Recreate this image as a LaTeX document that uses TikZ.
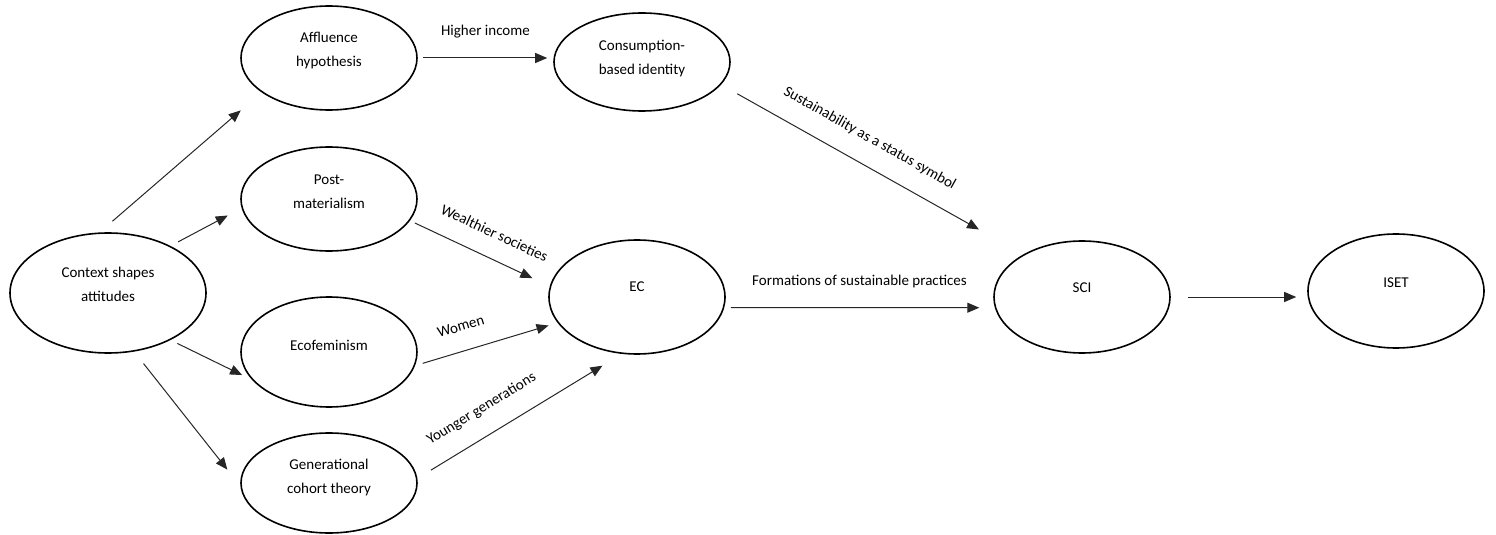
\documentclass[tikz,border=0pt]{standalone}
\usepackage{fontspec}
\setmainfont{Carlito}
\usetikzlibrary{shapes.geometric,arrows.meta}

\tikzset{
  oval/.style={ellipse,draw,line width=0.8pt,minimum width=88pt,minimum height=52pt,inner sep=0pt},
  intext/.style={align=center,font=\fontsize{7.5}{12}\selectfont,inner sep=0pt,yshift=3.5pt},
  arr/.style={-{Triangle[length=6pt,width=5pt]},line width=0.5pt,black!85},
  lbl/.style={font=\fontsize{7.5}{8}\selectfont,above=8.5pt,inner sep=1pt,black}
}

\begin{document}
\begin{tikzpicture}[x=0.5pt,y=-0.5pt]
  \useasboundingbox (0,0) rectangle (1496,535);
  % ellipses
  \node[oval,minimum width=98pt,minimum height=60pt] (ctx) at (108,293) {};
  \node[intext,yshift=1pt] (ctxt) at (ctx) {Context shapes\\attitudes};
  \node[oval] (aff) at (329,58) {};
  \node[intext] (afft) at (aff) {Affluence\\hypothesis};
  \node[oval] (post) at (329,199) {};
  \node[intext] (postt) at (post) {Post-\\materialism};
  \node[oval,minimum height=55pt] (eco) at (329,352) {};
  \node[intext] (ecot) at (eco) {Ecofeminism};
  \node[oval,minimum height=50pt] (gen) at (329,483) {};
  \node[intext,yshift=-0.5pt] (gent) at (gen) {Generational\\cohort theory};
  \node[oval,minimum height=49pt] (cons) at (642,62) {};
  \node[intext,yshift=-2pt] (const) at (cons) {Consumption-\\based identity};
  \node[oval,minimum height=57pt] (ec) at (637,297) {};
  \node[intext,yshift=1.5pt] (ect) at (ec) {EC};
  \node[oval,minimum height=56pt] (sci) at (1082,297) {};
  \node[intext,yshift=1pt] (scit) at (sci) {SCI};
  \node[oval,minimum height=57pt] (iset) at (1396,291) {};
  \node[intext,yshift=0.5pt] (isett) at (iset) {ISET};
  % arrows
  \draw[arr,shorten <=8.5pt,shorten >=13.8pt] (ctx.98) -- (aff.207);
  \draw[arr,shorten <=4.3pt,shorten >=7.8pt] (ctx.37) -- (post.186);
  \draw[arr,shorten <=3.8pt,shorten >=5.6pt] (ctx.323) -- (eco.200);
  \draw[arr,shorten <=7.6pt,shorten >=10.5pt] (ctx.294) -- (gen.182);
  \draw[arr,shorten <=2.5pt,shorten >=3pt] (aff.east) -- (aff.east -| cons.west)
    node[lbl,midway] (inc) {Higher income};
  \draw[arr,shorten <=2.7pt,shorten >=9.6pt] (post.345) -- (ec.173)
    node[lbl,sloped,pos=0.53] (wlt) {Wealthier societies};
  \draw[arr,shorten <=4pt,shorten >=4.7pt] (eco.351) -- (ec.198)
    node[lbl,sloped,pos=0.37] (wom) {Women};
  \draw[arr,shorten <=7.9pt,shorten >=11.3pt] (gen.3) -- (ec.255)
    node[lbl,sloped,pos=0.38] (yng) {Younger generations};
  \draw[arr,shorten <=9.3pt,shorten >=25.4pt] (cons.344) -- (sci.144)
    node[lbl,sloped,pos=0.45] (sts) {Sustainability as a status symbol};
  \draw[arr,shorten <=3.25pt,shorten >=7.75pt] (ec.-7) -- (sci.187)
    node[lbl,midway] (frm) {Formations of sustainable practices};
  \draw[arr,shorten <=8.5pt,shorten >=5.5pt] (sci.east) -- (sci.east -| iset.west);
\end{tikzpicture}
\end{document}
